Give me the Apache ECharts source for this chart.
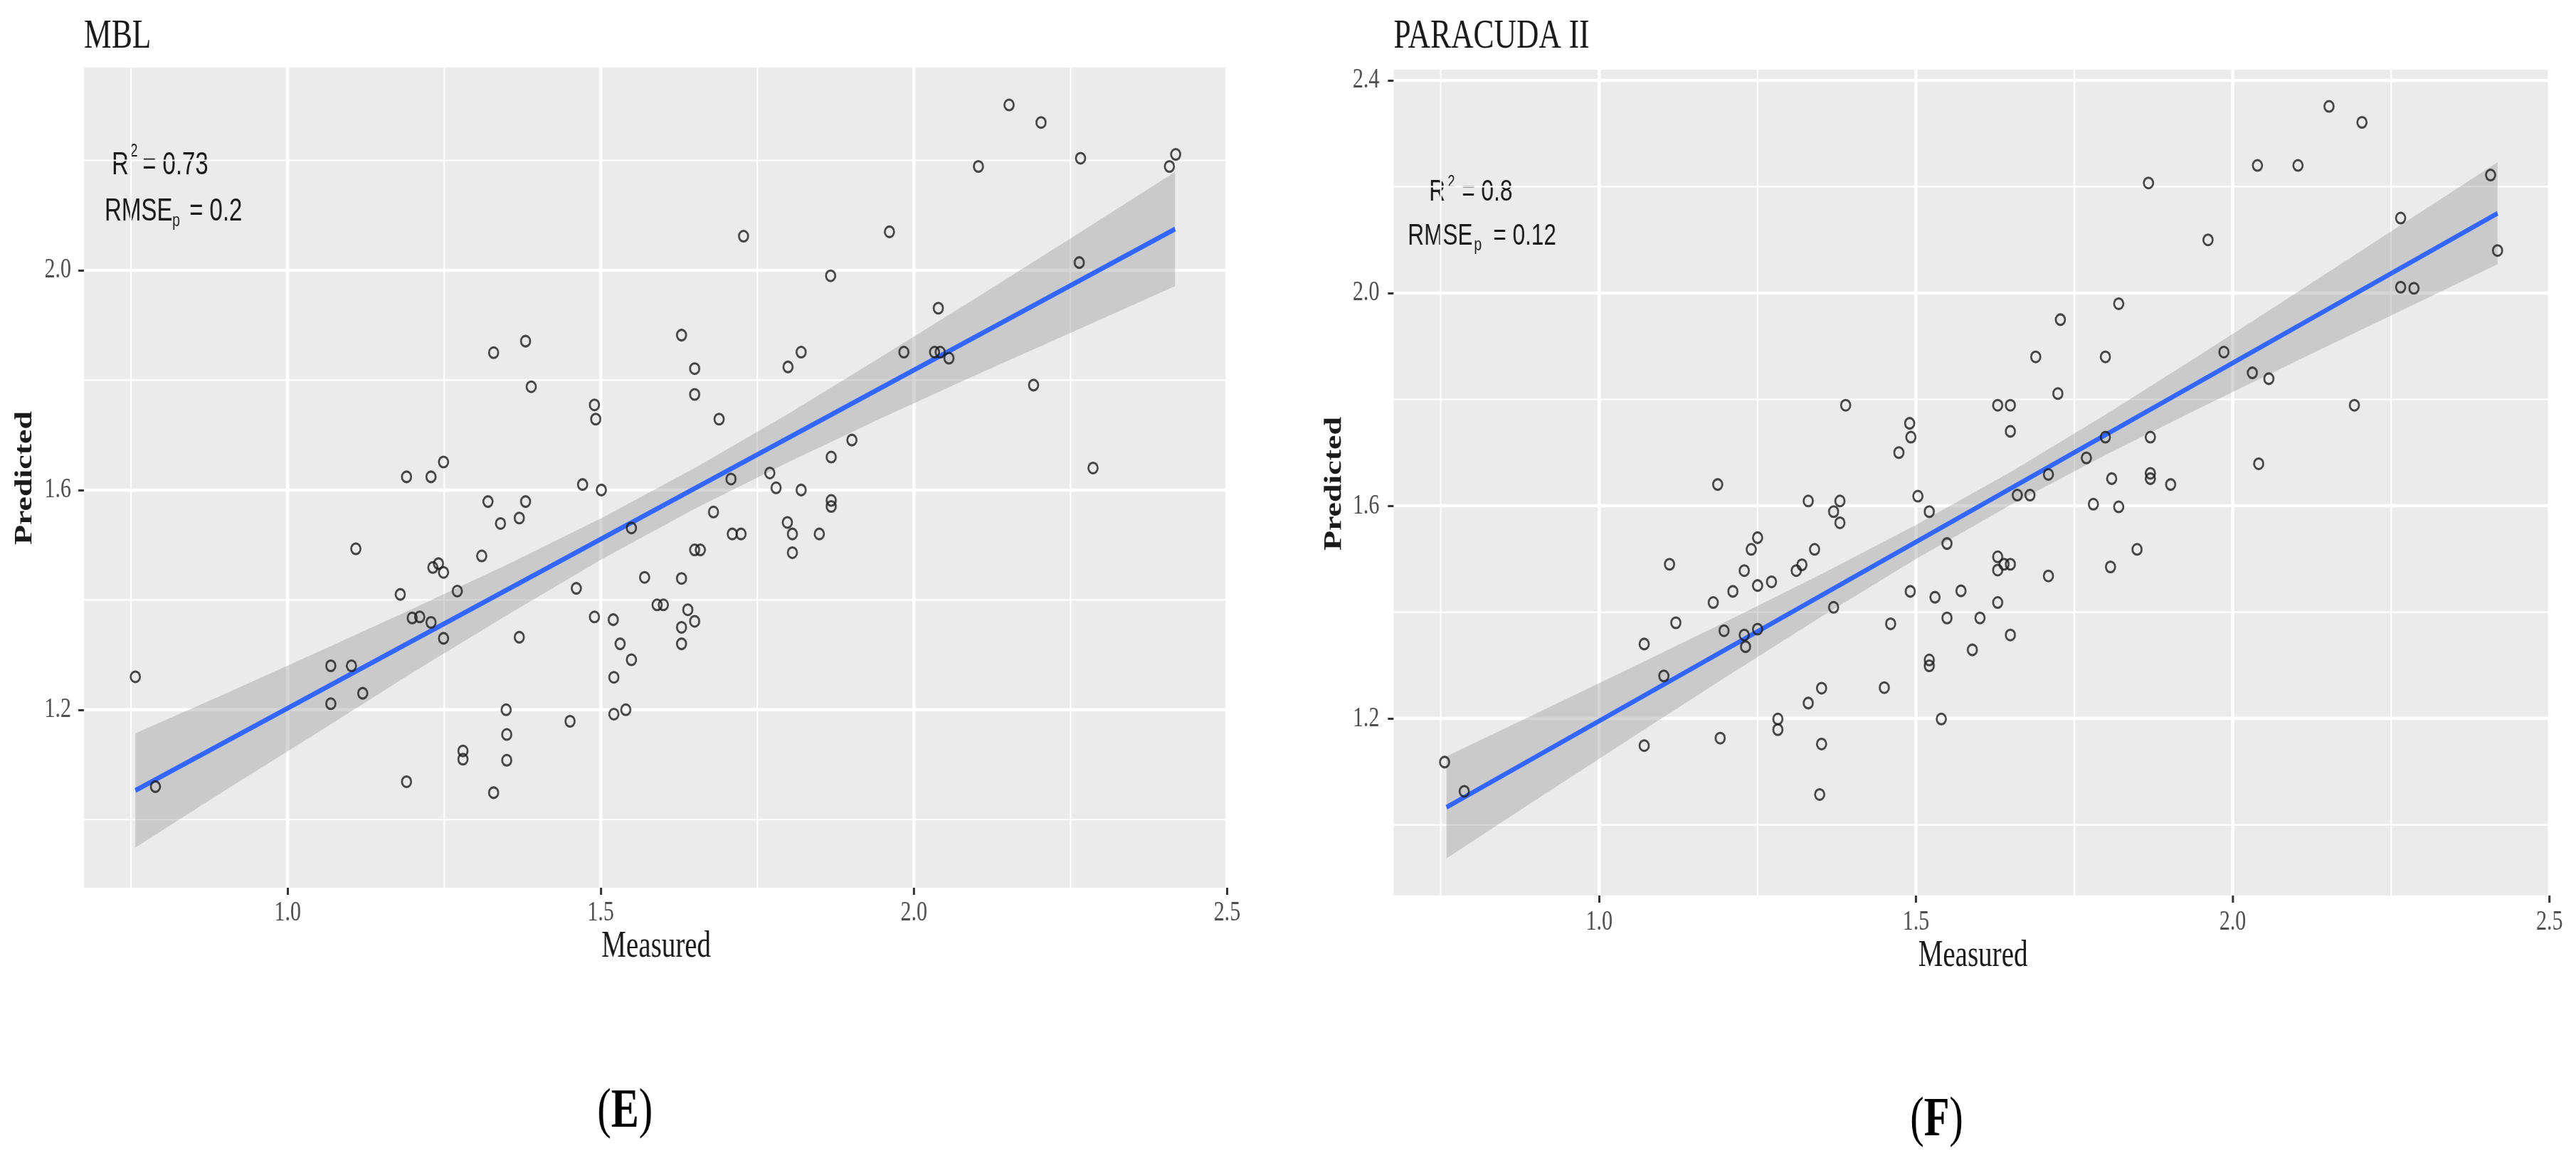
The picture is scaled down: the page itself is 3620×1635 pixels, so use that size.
<!DOCTYPE html>
<html>
<head>
<meta charset="utf-8">
<style>
html,body{margin:0;padding:0;background:#fff;overflow:hidden;width:3620px;height:1635px}
#chart{width:4826.67px;height:1635px;transform:scaleX(0.75);transform-origin:0 0}
</style>
<script src="https://cdn.jsdelivr.net/npm/echarts@6/dist/echarts.min.js"></script>
</head>
<body>
<div id="chart"></div>
<script>
// ---------------- DATA ----------------
const panelTitles = ['MBL', 'PARACUDA II'];
const panelLetters = ['E', 'F'];
const xAxisTitle = 'Measured';
const yAxisTitle = 'Predicted';
const statR2 = ['0.73', '0.8'];
const statRMSE = ['0.2', '0.12'];

const xTicks = [1.0, 1.5, 2.0, 2.5];
const xMinorGrid = [0.75, 1.25, 1.75, 2.25];
const mblYTicks = [1.2, 1.6, 2.0];
const paraYTicks = [1.2, 1.6, 2.0, 2.4];
const yMinorGrid = [1.0, 1.4, 1.8, 2.2];

const mblMeasured = [0.757,0.789,1.069,1.069,1.102,1.120,1.109,1.180,1.190,1.190,1.199,1.211,1.229,1.229,1.232,1.241,1.249,1.249,1.249,1.271,1.280,1.280,1.310,1.320,1.329,1.329,1.340,1.349,1.350,1.350,1.370,1.370,1.380,1.380,1.389,1.451,1.461,1.471,1.490,1.492,1.490,1.501,1.520,1.521,1.521,1.531,1.540,1.549,1.549,1.570,1.590,1.600,1.629,1.629,1.629,1.629,1.639,1.650,1.650,1.650,1.659,1.650,1.680,1.689,1.708,1.710,1.724,1.728,1.770,1.780,1.798,1.799,1.806,1.806,1.820,1.820,1.849,1.867,1.868,1.868,1.868,1.901,1.961,1.984,2.033,2.039,2.042,2.056,2.103,2.152,2.191,2.203,2.264,2.266,2.286,2.408,2.418];
const mblPredicted = [1.260,1.060,1.280,1.211,1.280,1.230,1.493,1.410,1.624,1.069,1.367,1.369,1.359,1.624,1.459,1.466,1.450,1.651,1.330,1.416,1.125,1.110,1.480,1.579,1.850,1.049,1.539,1.200,1.155,1.108,1.332,1.549,1.579,1.871,1.788,1.179,1.421,1.610,1.755,1.729,1.369,1.600,1.364,1.259,1.192,1.320,1.200,1.531,1.291,1.441,1.391,1.391,1.882,1.439,1.350,1.320,1.382,1.821,1.774,1.491,1.491,1.361,1.560,1.729,1.620,1.520,1.520,2.062,1.631,1.604,1.541,1.824,1.520,1.486,1.851,1.600,1.520,1.990,1.660,1.581,1.570,1.691,2.070,1.851,1.851,1.931,1.851,1.840,2.189,2.301,1.791,2.269,2.014,2.204,1.640,2.189,2.211];

const paraMeasured = [0.756,0.787,1.071,1.071,1.102,1.111,1.121,1.180,1.187,1.191,1.197,1.211,1.229,1.229,1.231,1.240,1.250,1.250,1.250,1.272,1.282,1.282,1.311,1.320,1.330,1.330,1.340,1.351,1.351,1.348,1.370,1.370,1.380,1.380,1.389,1.450,1.460,1.473,1.490,1.492,1.491,1.503,1.521,1.521,1.521,1.530,1.540,1.549,1.549,1.571,1.589,1.601,1.629,1.629,1.629,1.629,1.639,1.649,1.649,1.649,1.649,1.660,1.680,1.689,1.709,1.709,1.724,1.728,1.769,1.780,1.799,1.799,1.807,1.809,1.820,1.820,1.849,1.867,1.870,1.870,1.870,1.902,1.961,1.986,2.031,2.039,2.041,2.057,2.103,2.152,2.192,2.204,2.265,2.265,2.286,2.407,2.418];
const paraPredicted = [1.118,1.063,1.340,1.149,1.280,1.490,1.380,1.418,1.640,1.163,1.365,1.439,1.478,1.357,1.335,1.518,1.540,1.450,1.368,1.457,1.199,1.179,1.478,1.489,1.609,1.229,1.518,1.257,1.152,1.057,1.589,1.409,1.609,1.568,1.789,1.258,1.378,1.700,1.755,1.729,1.439,1.618,1.589,1.310,1.299,1.428,1.199,1.529,1.389,1.440,1.329,1.389,1.789,1.504,1.479,1.418,1.490,1.490,1.789,1.740,1.357,1.620,1.620,1.880,1.659,1.468,1.811,1.950,1.690,1.603,1.729,1.880,1.485,1.651,1.980,1.598,1.518,2.207,1.729,1.661,1.651,1.640,2.100,1.889,1.850,2.240,1.679,1.839,2.240,2.351,1.789,2.321,2.141,2.011,2.009,2.222,2.080];

// fitted line end points
const mblFitX = [0.757, 2.417];
const mblFitY = [1.053, 2.075];
const paraFitX = [0.759, 2.418];
const paraFitY = [1.033, 2.150];

// confidence band edges
const mblBandX = [0.757,0.9,1.05,1.2,1.35,1.5,1.65,1.8,1.95,2.1,2.25,2.417];
const mblBandLow = [0.949,1.053,1.160,1.268,1.372,1.473,1.566,1.651,1.732,1.810,1.886,1.971];
const mblBandHigh = [1.157,1.229,1.306,1.384,1.464,1.548,1.640,1.739,1.844,1.950,2.058,2.179];
const paraBandX = [0.759,0.9,1.05,1.2,1.35,1.5,1.65,1.8,1.95,2.1,2.25,2.418];
const paraBandLow = [0.937,1.047,1.163,1.278,1.391,1.500,1.602,1.696,1.785,1.872,1.958,2.054];
const paraBandHigh = [1.129,1.209,1.295,1.382,1.471,1.564,1.664,1.772,1.885,2.000,2.116,2.246];

// ---------------- LAYOUT ----------------
const S = 0.75;               // horizontal squeeze of the original figure
const X = px => px / S;       // screen px -> internal px
const SERIF = '"Liberation Serif", "Times New Roman", serif';
const SANS = '"Liberation Sans", Arial, sans-serif';

const panels = [
  { left: 118, right: 1724, top: 95, bottom: 1248, xMin: 0.675, xMax: 2.5, yMin: 0.876, yMax: 2.369,
    yTicks: mblYTicks, mx: mblMeasured, py: mblPredicted, fx: mblFitX, fy: mblFitY,
    bx: mblBandX, bl: mblBandLow, bh: mblBandHigh, xLabMargin: 15, yLabGap: 18 },
  { left: 1958, right: 3582, top: 98, bottom: 1259, xMin: 0.6755, xMax: 2.5, yMin: 0.867, yMax: 2.42,
    yTicks: paraYTicks, mx: paraMeasured, py: paraPredicted, fx: paraFitX, fy: paraFitY,
    bx: paraBandX, bl: paraBandLow, bh: paraBandHigh, xLabMargin: 17, yLabGap: 20 }
];

const grids = [], xAxes = [], yAxes = [], series = [];
panels.forEach((p, i) => {
  grids.push({ left: X(p.left), top: p.top, width: X(p.right) - X(p.left), height: p.bottom - p.top,
    show: true, backgroundColor: '#EBEBEB', borderWidth: 0 });
  xAxes.push({ type: 'value', gridIndex: i, min: p.xMin, max: p.xMax,
    axisLine: { show: false }, splitLine: { show: false },
    axisTick: { show: true, customValues: xTicks, length: 10, lineStyle: { color: '#333', width: X(3) } },
    axisLabel: { customValues: xTicks, formatter: v => v.toFixed(1), margin: p.xLabMargin,
      fontFamily: SERIF, fontSize: 40, color: '#4D4D4D' } });
  yAxes.push({ type: 'value', gridIndex: i, min: p.yMin, max: p.yMax,
    axisLine: { show: false }, splitLine: { show: false },
    axisTick: { show: true, customValues: p.yTicks, length: X(8), lineStyle: { color: '#333', width: 3 } },
    axisLabel: { customValues: p.yTicks, formatter: v => v.toFixed(1), margin: X(p.yLabGap),
      fontFamily: SERIF, fontSize: 40, color: '#4D4D4D' } });

  // background grid lines (type: 0 minor vertical, 1 major vertical, 2 minor horizontal, 3 major horizontal)
  const gl = [];
  xMinorGrid.forEach(v => gl.push([v, 0]));
  xTicks.forEach(v => gl.push([v, 1]));
  yMinorGrid.forEach(v => gl.push([v, 2]));
  p.yTicks.forEach(v => gl.push([v, 3]));
  series.push({ type: 'custom', xAxisIndex: i, yAxisIndex: i, z: 1, silent: true, clip: true,
    data: gl,
    renderItem: (params, api) => {
      const cs = params.coordSys;
      const v = api.value(0), t = api.value(1);
      if (t < 2) {
        const x = api.coord([v, (p.yMin + p.yMax) / 2])[0];
        return { type: 'line', shape: { x1: x, y1: cs.y, x2: x, y2: cs.y + cs.height },
          style: { stroke: '#FFFFFF', lineWidth: t === 1 ? X(4.5) : X(2.2) } };
      }
      const y = api.coord([(p.xMin + p.xMax) / 2, v])[1];
      return { type: 'line', shape: { x1: cs.x, y1: y, x2: cs.x + cs.width, y2: y },
        style: { stroke: '#FFFFFF', lineWidth: t === 3 ? 4.5 : 2.2 } };
    } });

  // confidence band
  series.push({ type: 'custom', xAxisIndex: i, yAxisIndex: i, z: 2, silent: true,
    data: p.bx.map((x, k) => [x, p.bl[k], p.bh[k]]),
    encode: { x: 0, y: [1, 2] },
    renderItem: (params, api) => {
      if (params.dataIndex !== 0) return null;
      const pts = [];
      for (let k = 0; k < p.bx.length; k++) pts.push(api.coord([p.bx[k], p.bl[k]]));
      for (let k = p.bx.length - 1; k >= 0; k--) pts.push(api.coord([p.bx[k], p.bh[k]]));
      return { type: 'polygon', shape: { points: pts }, style: { fill: 'rgba(153,153,153,0.4)' } };
    } });

  // fitted line
  series.push({ type: 'line', xAxisIndex: i, yAxisIndex: i, z: 3, silent: true,
    data: p.fx.map((x, k) => [x, p.fy[k]]), showSymbol: false,
    lineStyle: { color: '#3366FF', width: 7 } });

  // points
  series.push({ type: 'scatter', xAxisIndex: i, yAxisIndex: i, z: 4, silent: true,
    data: p.mx.map((x, k) => [x, p.py[k]]), symbol: 'circle', symbolSize: [X(13), 15],
    itemStyle: { color: 'rgba(0,0,0,0)', borderColor: '#1a1a1a', borderWidth: 3.3 } });
});

function txt(x, y, text, font, extra) {
  return Object.assign({ type: 'text', x: X(x), y: y, silent: true,
    style: { text: text, font: font, fill: '#1a1a1a', align: 'left', verticalAlign: 'middle',
      textAlign: 'left', textVerticalAlign: 'middle' } }, extra || {});
}
function ctxt(x, y, text, font, extra) {
  const e = txt(x, y, text, font, extra);
  e.style.align = 'center'; e.style.textAlign = 'center';
  return e;
}

const graphics = [
  // panel titles
  txt(118, 51.5, panelTitles[0], '58px ' + SERIF),
  txt(1958, 51.5, panelTitles[1], '58px ' + SERIF),
  // y axis titles
  ctxt(35, 672, yAxisTitle, 'bold 46px ' + SERIF, { rotation: Math.PI / 2 }),
  ctxt(1875, 680, yAxisTitle, 'bold 46px ' + SERIF, { rotation: Math.PI / 2 }),
  // x axis titles
  ctxt(922, 1331, xAxisTitle, '52px ' + SERIF),
  ctxt(2772, 1344, xAxisTitle, '52px ' + SERIF),
  // stats left
  txt(157, 233, 'R', '44px ' + SANS),
  txt(183, 213, '2', '25px ' + SANS),
  txt(200, 233, '= ' + statR2[0], '44px ' + SANS),
  txt(147, 298, 'RMSE', '44px ' + SANS),
  txt(242, 311, 'p', '26px ' + SANS),
  txt(266, 298, '= ' + statRMSE[0], '44px ' + SANS),
  // stats right
  txt(2008, 270, 'R', '42px ' + SANS),
  txt(2034, 256, '2', '24px ' + SANS),
  txt(2054, 270, '= ' + statR2[1], '42px ' + SANS),
  txt(1978, 332, 'RMSE', '42px ' + SANS),
  txt(2071, 345, 'p', '26px ' + SANS),
  txt(2098, 332, '= ' + statRMSE[1], '42px ' + SANS)
];
// panel letters (E), (F)
[[878, 1564, panelLetters[0]], [2721, 1576, panelLetters[1]]].forEach(([x, y, L]) => {
  graphics.push({ type: 'text', x: X(x), y: y, silent: true,
    style: { text: '{p|(}{b|' + L + '}{p|)}', align: 'center', verticalAlign: 'middle',
      textAlign: 'center', textVerticalAlign: 'middle',
      rich: { p: { fontFamily: SERIF, fontSize: 78, fill: '#000', color: '#000' },
              b: { fontFamily: SERIF, fontSize: 78, fontWeight: 'bold', fill: '#000', color: '#000' } } } });
});

const chart = echarts.init(document.getElementById('chart'), null, { renderer: 'canvas', width: 3620 / S, height: 1635 });
chart.setOption({
  animation: false,
  backgroundColor: '#FFFFFF',
  grid: grids,
  xAxis: xAxes,
  yAxis: yAxes,
  series: series,
  graphic: graphics
});
</script>
</body>
</html>
